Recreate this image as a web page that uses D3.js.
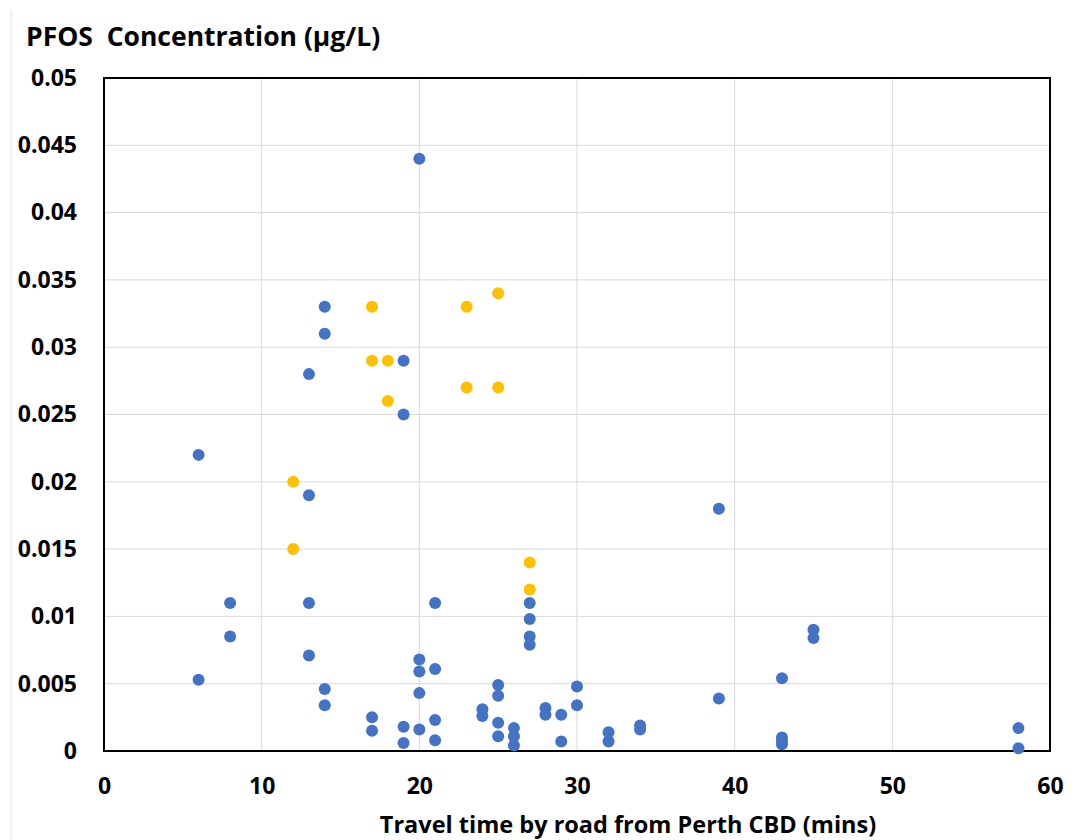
<!DOCTYPE html>
<html>
<head>
<meta charset="utf-8">
<script src="https://cdn.jsdelivr.net/npm/d3@7"></script>
<style>
  body { margin: 0; background: #fff; }
  text { font-family: "Open Sans", "DejaVu Sans", sans-serif; font-weight: bold; fill: #000; }
</style>
</head>
<body>
<div id="chart"></div>
<script>
// Travel time (mins) and PFOS concentration (ug/L) - blue series
const blueTime = [6, 6, 8, 8, 13, 13, 13, 13, 14, 14, 14, 14, 17, 17, 19, 19, 19, 19,
    20, 20, 20, 20, 20, 21, 21, 21, 21, 24, 24, 25, 25, 25, 25, 26, 26, 26,
    27, 27, 27, 27, 28, 28, 29, 29, 30, 30, 32, 32, 34, 34, 39, 39,
    43, 43, 43, 43, 45, 45, 58, 58];
const blueConc = [0.022, 0.0053, 0.011, 0.0085, 0.028, 0.019, 0.011, 0.0071, 0.033, 0.031, 0.0046, 0.0034, 0.0025, 0.0015, 0.029, 0.025, 0.0018, 0.0006,
    0.044, 0.0068, 0.0059, 0.0043, 0.0016, 0.011, 0.0061, 0.0023, 0.0008, 0.0031, 0.0026, 0.0049, 0.0041, 0.0021, 0.0011, 0.0017, 0.0011, 0.0004,
    0.011, 0.0098, 0.0085, 0.0079, 0.0032, 0.0027, 0.0027, 0.0007, 0.0048, 0.0034, 0.0014, 0.0007, 0.0019, 0.0016, 0.018, 0.0039,
    0.0054, 0.001, 0.0007, 0.0005, 0.009, 0.0084, 0.0017, 0.0002];

// yellow series
const yellowTime = [12, 12, 17, 17, 18, 18, 23, 23, 25, 25, 27, 27];
const yellowConc = [0.020, 0.015, 0.033, 0.029, 0.029, 0.026, 0.033, 0.027, 0.034, 0.027, 0.014, 0.012];

const xTicks = [0, 10, 20, 30, 40, 50, 60];
const yTicks = [0, 0.005, 0.01, 0.015, 0.02, 0.025, 0.03, 0.035, 0.04, 0.045, 0.05];

const width = 1090, height = 840;
const plot = { left: 104, right: 1050, top: 78, bottom: 751 };

const svg = d3.select("#chart")
    .append("svg")
    .attr("width", width)
    .attr("height", height);

const x = d3.scaleLinear().domain([0, 60]).range([plot.left, plot.right]);
const y = d3.scaleLinear().domain([0, 0.05]).range([plot.bottom, plot.top]);

// faint edge line on the left of the original image
svg.append("line")
    .attr("x1", 11).attr("x2", 11)
    .attr("y1", 10).attr("y2", height)
    .attr("stroke", "#e4e4e4")
    .attr("stroke-width", 1);

// gridlines
svg.append("g")
    .selectAll("line")
    .data(xTicks.slice(1, -1))
    .enter()
    .append("line")
    .attr("x1", d => x(d)).attr("x2", d => x(d))
    .attr("y1", plot.top).attr("y2", plot.bottom)
    .attr("stroke", "#d9d9d9")
    .attr("stroke-width", 1);

svg.append("g")
    .selectAll("line")
    .data(yTicks.slice(1, -1))
    .enter()
    .append("line")
    .attr("x1", plot.left).attr("x2", plot.right)
    .attr("y1", d => y(d)).attr("y2", d => y(d))
    .attr("stroke", "#d9d9d9")
    .attr("stroke-width", 1);

// axes (labels only, no tick marks)
const xAxis = svg.append("g")
    .attr("transform", `translate(0,${plot.bottom})`)
    .call(d3.axisBottom(x).tickValues(xTicks).tickSize(0).tickPadding(27).tickFormat(d3.format("d")));
xAxis.select(".domain").remove();
xAxis.selectAll("text").style("font-size", "23px").attr("fill", "#000");

const yAxis = svg.append("g")
    .attr("transform", `translate(${plot.left},0)`)
    .call(d3.axisLeft(y).tickValues(yTicks).tickSize(0).tickPadding(27).tickFormat(d => d === 0 ? "0" : String(+d.toFixed(3))));
yAxis.select(".domain").remove();
yAxis.selectAll("text").style("font-size", "23px").attr("fill", "#000");

// plot frame
svg.append("rect")
    .attr("x", plot.left).attr("y", plot.top)
    .attr("width", plot.right - plot.left)
    .attr("height", plot.bottom - plot.top)
    .attr("fill", "none")
    .attr("stroke", "#000")
    .attr("stroke-width", 2);

// points
const bluePts = blueTime.map((t, i) => ({ t: t, c: blueConc[i] }));
const yellowPts = yellowTime.map((t, i) => ({ t: t, c: yellowConc[i] }));

svg.append("g")
    .selectAll("circle")
    .data(bluePts)
    .enter()
    .append("circle")
    .attr("cx", d => x(d.t))
    .attr("cy", d => y(d.c))
    .attr("r", 6)
    .attr("fill", "#4472C4");

svg.append("g")
    .selectAll("circle")
    .data(yellowPts)
    .enter()
    .append("circle")
    .attr("cx", d => x(d.t))
    .attr("cy", d => y(d.c))
    .attr("r", 6)
    .attr("fill", "#FFC000");

// titles
svg.append("text")
    .attr("x", 26)
    .attr("y", 46)
    .style("font-size", "26.5px")
    .style("white-space", "pre")
    .text("PFOS  Concentration (\u03BCg/L)");

svg.append("text")
    .attr("x", 628)
    .attr("y", 833)
    .attr("text-anchor", "middle")
    .style("font-size", "23.5px")
    .text("Travel time by road from Perth CBD (mins)");
</script>
</body>
</html>
